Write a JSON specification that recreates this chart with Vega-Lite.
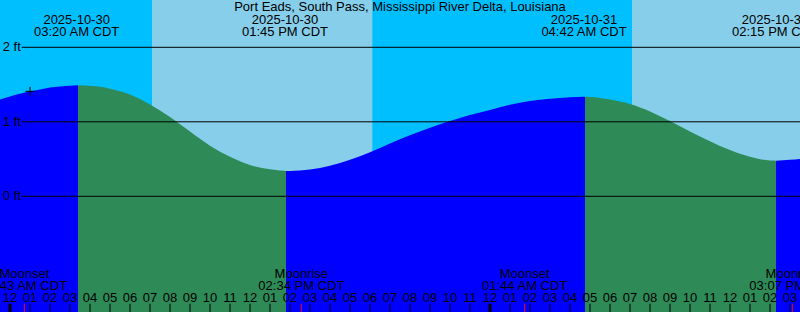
{
  "$schema": "https://vega.github.io/schema/vega-lite/v6.json",
  "width": 800,
  "height": 312,
  "autosize": "none",
  "padding": 0,
  "background": "#00BFFF",
  "config": {
    "view": {"stroke": null},
    "axis": {"disable": true},
    "text": {"font": "Liberation Sans", "fontSize": 13, "color": "#000000"}
  },
  "datasets": {
    "sky": [
      {"start": -0.5, "end": 7.1, "period": "night"},
      {"start": 7.1, "end": 18.13, "period": "day"},
      {"start": 18.13, "end": 31.1, "period": "night"},
      {"start": 31.1, "end": 39.5, "period": "day"}
    ],
    "tide": [
      {"h": -0.5, "ft": 1.30, "seg": 1, "dir": "rising"},
      {"h": 0, "ft": 1.34, "seg": 1, "dir": "rising"},
      {"h": 0.5, "ft": 1.375, "seg": 1, "dir": "rising"},
      {"h": 1, "ft": 1.41, "seg": 1, "dir": "rising"},
      {"h": 1.5, "ft": 1.435, "seg": 1, "dir": "rising"},
      {"h": 2, "ft": 1.46, "seg": 1, "dir": "rising"},
      {"h": 2.5, "ft": 1.475, "seg": 1, "dir": "rising"},
      {"h": 3, "ft": 1.485, "seg": 1, "dir": "rising"},
      {"h": 3.4, "ft": 1.49, "seg": 1, "dir": "rising"},
      {"h": 3.4, "ft": 1.49, "seg": 2, "dir": "falling"},
      {"h": 4, "ft": 1.483, "seg": 2, "dir": "falling"},
      {"h": 5, "ft": 1.445, "seg": 2, "dir": "falling"},
      {"h": 6, "ft": 1.365, "seg": 2, "dir": "falling"},
      {"h": 7, "ft": 1.232, "seg": 2, "dir": "falling"},
      {"h": 8, "ft": 1.065, "seg": 2, "dir": "falling"},
      {"h": 9, "ft": 0.87, "seg": 2, "dir": "falling"},
      {"h": 10, "ft": 0.68, "seg": 2, "dir": "falling"},
      {"h": 11, "ft": 0.53, "seg": 2, "dir": "falling"},
      {"h": 12, "ft": 0.42, "seg": 2, "dir": "falling"},
      {"h": 13, "ft": 0.362, "seg": 2, "dir": "falling"},
      {"h": 13.8, "ft": 0.34, "seg": 2, "dir": "falling"},
      {"h": 13.8, "ft": 0.34, "seg": 3, "dir": "rising"},
      {"h": 14, "ft": 0.341, "seg": 3, "dir": "rising"},
      {"h": 15, "ft": 0.36, "seg": 3, "dir": "rising"},
      {"h": 16, "ft": 0.41, "seg": 3, "dir": "rising"},
      {"h": 17, "ft": 0.49, "seg": 3, "dir": "rising"},
      {"h": 18, "ft": 0.59, "seg": 3, "dir": "rising"},
      {"h": 19, "ft": 0.71, "seg": 3, "dir": "rising"},
      {"h": 20, "ft": 0.82, "seg": 3, "dir": "rising"},
      {"h": 21, "ft": 0.92, "seg": 3, "dir": "rising"},
      {"h": 22, "ft": 1.01, "seg": 3, "dir": "rising"},
      {"h": 23, "ft": 1.09, "seg": 3, "dir": "rising"},
      {"h": 24, "ft": 1.16, "seg": 3, "dir": "rising"},
      {"h": 25, "ft": 1.23, "seg": 3, "dir": "rising"},
      {"h": 26, "ft": 1.28, "seg": 3, "dir": "rising"},
      {"h": 27, "ft": 1.31, "seg": 3, "dir": "rising"},
      {"h": 28, "ft": 1.33, "seg": 3, "dir": "rising"},
      {"h": 28.75, "ft": 1.335, "seg": 3, "dir": "rising"},
      {"h": 28.75, "ft": 1.335, "seg": 4, "dir": "falling"},
      {"h": 29, "ft": 1.333, "seg": 4, "dir": "falling"},
      {"h": 30, "ft": 1.30, "seg": 4, "dir": "falling"},
      {"h": 31, "ft": 1.24, "seg": 4, "dir": "falling"},
      {"h": 32, "ft": 1.14, "seg": 4, "dir": "falling"},
      {"h": 33, "ft": 1.01, "seg": 4, "dir": "falling"},
      {"h": 34, "ft": 0.87, "seg": 4, "dir": "falling"},
      {"h": 35, "ft": 0.74, "seg": 4, "dir": "falling"},
      {"h": 36, "ft": 0.62, "seg": 4, "dir": "falling"},
      {"h": 37, "ft": 0.53, "seg": 4, "dir": "falling"},
      {"h": 38, "ft": 0.48, "seg": 4, "dir": "falling"},
      {"h": 38.3, "ft": 0.478, "seg": 4, "dir": "falling"},
      {"h": 38.3, "ft": 0.478, "seg": 5, "dir": "rising"},
      {"h": 39, "ft": 0.49, "seg": 5, "dir": "rising"},
      {"h": 39.5, "ft": 0.50, "seg": 5, "dir": "rising"}
    ],
    "levels": [
      {"ft": 0, "label": "0 ft"},
      {"ft": 1, "label": "1 ft"},
      {"ft": 2, "label": "2 ft"}
    ],
    "title": [
      {"h": 19.5, "title": "Port Eads, South Pass, Mississippi River Delta, Louisiana"}
    ],
    "tideEvents": [
      {"h": 3.333, "date": "2025-10-30", "time": "03:20 AM CDT"},
      {"h": 13.75, "date": "2025-10-30", "time": "01:45 PM CDT"},
      {"h": 28.7, "date": "2025-10-31", "time": "04:42 AM CDT"},
      {"h": 38.25, "date": "2025-10-31", "time": "02:15 PM CDT"}
    ],
    "moonEvents": [
      {"h": 0.717, "event": "Moonset", "time": "12:43 AM CDT"},
      {"h": 14.567, "event": "Moonrise", "time": "02:34 PM CDT"},
      {"h": 25.733, "event": "Moonset", "time": "01:44 AM CDT"},
      {"h": 39.117, "event": "Moonrise", "time": "03:07 PM CDT"}
    ],
    "hours": [
      {"h": 0, "label": "12"}, {"h": 1, "label": "01"}, {"h": 2, "label": "02"}, {"h": 3, "label": "03"},
      {"h": 4, "label": "04"}, {"h": 5, "label": "05"}, {"h": 6, "label": "06"}, {"h": 7, "label": "07"},
      {"h": 8, "label": "08"}, {"h": 9, "label": "09"}, {"h": 10, "label": "10"}, {"h": 11, "label": "11"},
      {"h": 12, "label": "12"}, {"h": 13, "label": "01"}, {"h": 14, "label": "02"}, {"h": 15, "label": "03"},
      {"h": 16, "label": "04"}, {"h": 17, "label": "05"}, {"h": 18, "label": "06"}, {"h": 19, "label": "07"},
      {"h": 20, "label": "08"}, {"h": 21, "label": "09"}, {"h": 22, "label": "10"}, {"h": 23, "label": "11"},
      {"h": 24, "label": "12"}, {"h": 25, "label": "01"}, {"h": 26, "label": "02"}, {"h": 27, "label": "03"},
      {"h": 28, "label": "04"}, {"h": 29, "label": "05"}, {"h": 30, "label": "06"}, {"h": 31, "label": "07"},
      {"h": 32, "label": "08"}, {"h": 33, "label": "09"}, {"h": 34, "label": "10"}, {"h": 35, "label": "11"},
      {"h": 36, "label": "12"}, {"h": 37, "label": "01"}, {"h": 38, "label": "02"}, {"h": 39, "label": "03"}
    ],
    "now": [
      {"h": 1.0, "ft": 1.409}
    ]
  },
  "layer": [
    {
      "data": {"name": "sky"},
      "mark": {"type": "rect"},
      "encoding": {
        "x": {"field": "start", "type": "quantitative", "scale": {"domain": [-0.5, 39.5], "nice": false, "zero": false}, "axis": null},
        "x2": {"field": "end"},
        "y": {"datum": 2.635, "type": "quantitative", "scale": {"domain": [-1.553, 2.635], "nice": false, "zero": false}, "axis": null},
        "y2": {"datum": -1.553},
        "color": {"field": "period", "type": "nominal", "scale": {"domain": ["night", "day"], "range": ["#00BFFF", "#87CEEB"]}, "legend": null}
      }
    },
    {
      "data": {"name": "tide"},
      "mark": {"type": "area", "interpolate": "monotone"},
      "encoding": {
        "x": {"field": "h", "type": "quantitative", "scale": {"domain": [-0.5, 39.5], "nice": false, "zero": false}, "axis": null},
        "y": {"field": "ft", "type": "quantitative", "scale": {"domain": [-1.553, 2.635], "nice": false, "zero": false}, "axis": null},
        "y2": {"datum": -1.553},
        "fill": {"field": "dir", "type": "nominal", "scale": {"domain": ["rising", "falling"], "range": ["#0000FF", "#2E8B57"]}, "legend": null},
        "detail": {"field": "seg", "type": "nominal"}
      }
    },
    {
      "data": {"name": "levels"},
      "mark": {"type": "rule", "color": "#000000", "strokeWidth": 1},
      "encoding": {
        "x": {"datum": 0.585, "type": "quantitative", "scale": {"domain": [-0.5, 39.5], "nice": false, "zero": false}, "axis": null},
        "x2": {"datum": 39.5},
        "y": {"field": "ft", "type": "quantitative", "scale": {"domain": [-1.553, 2.635], "nice": false, "zero": false}, "axis": null}
      }
    },
    {
      "data": {"name": "levels"},
      "mark": {"type": "text", "align": "left", "baseline": "middle"},
      "encoding": {
        "x": {"datum": -0.365, "type": "quantitative", "scale": {"domain": [-0.5, 39.5], "nice": false, "zero": false}, "axis": null},
        "y": {"field": "ft", "type": "quantitative", "scale": {"domain": [-1.553, 2.635], "nice": false, "zero": false}, "axis": null},
        "text": {"field": "label"}
      }
    },
    {
      "data": {"name": "title"},
      "mark": {"type": "text", "align": "center", "baseline": "alphabetic"},
      "encoding": {
        "x": {"field": "h", "type": "quantitative", "scale": {"domain": [-0.5, 39.5], "nice": false, "zero": false}, "axis": null},
        "y": {"datum": 2.487, "type": "quantitative", "scale": {"domain": [-1.553, 2.635], "nice": false, "zero": false}, "axis": null},
        "text": {"field": "title"}
      }
    },
    {
      "data": {"name": "tideEvents"},
      "mark": {"type": "text", "align": "center", "baseline": "alphabetic"},
      "encoding": {
        "x": {"field": "h", "type": "quantitative", "scale": {"domain": [-0.5, 39.5], "nice": false, "zero": false}, "axis": null},
        "y": {"datum": 2.309, "type": "quantitative", "scale": {"domain": [-1.553, 2.635], "nice": false, "zero": false}, "axis": null},
        "text": {"field": "date"}
      }
    },
    {
      "data": {"name": "tideEvents"},
      "mark": {"type": "text", "align": "center", "baseline": "alphabetic"},
      "encoding": {
        "x": {"field": "h", "type": "quantitative", "scale": {"domain": [-0.5, 39.5], "nice": false, "zero": false}, "axis": null},
        "y": {"datum": 2.152, "type": "quantitative", "scale": {"domain": [-1.553, 2.635], "nice": false, "zero": false}, "axis": null},
        "text": {"field": "time"}
      }
    },
    {
      "data": {"name": "moonEvents"},
      "mark": {"type": "text", "align": "center", "baseline": "alphabetic"},
      "encoding": {
        "x": {"field": "h", "type": "quantitative", "scale": {"domain": [-0.5, 39.5], "nice": false, "zero": false}, "axis": null},
        "y": {"datum": -1.101, "type": "quantitative", "scale": {"domain": [-1.553, 2.635], "nice": false, "zero": false}, "axis": null},
        "text": {"field": "event"}
      }
    },
    {
      "data": {"name": "moonEvents"},
      "mark": {"type": "text", "align": "center", "baseline": "alphabetic"},
      "encoding": {
        "x": {"field": "h", "type": "quantitative", "scale": {"domain": [-0.5, 39.5], "nice": false, "zero": false}, "axis": null},
        "y": {"datum": -1.258, "type": "quantitative", "scale": {"domain": [-1.553, 2.635], "nice": false, "zero": false}, "axis": null},
        "text": {"field": "time"}
      }
    },
    {
      "data": {"name": "hours"},
      "mark": {"type": "text", "align": "center", "baseline": "alphabetic"},
      "encoding": {
        "x": {"field": "h", "type": "quantitative", "scale": {"domain": [-0.5, 39.5], "nice": false, "zero": false}, "axis": null},
        "y": {"datum": -1.415, "type": "quantitative", "scale": {"domain": [-1.553, 2.635], "nice": false, "zero": false}, "axis": null},
        "text": {"field": "label"}
      }
    },
    {
      "data": {"name": "hours"},
      "mark": {"type": "rule", "color": "#000000"},
      "encoding": {
        "x": {"field": "h", "type": "quantitative", "scale": {"domain": [-0.5, 39.5], "nice": false, "zero": false}, "axis": null},
        "y": {"datum": -1.442, "type": "quantitative", "scale": {"domain": [-1.553, 2.635], "nice": false, "zero": false}, "axis": null},
        "y2": {"datum": -1.553},
        "strokeWidth": {"condition": {"test": "datum.h % 24 === 0", "value": 3}, "value": 1}
      }
    },
    {
      "data": {"name": "moonEvents"},
      "mark": {"type": "rule", "color": "#FF0000", "strokeWidth": 1},
      "encoding": {
        "x": {"field": "h", "type": "quantitative", "scale": {"domain": [-0.5, 39.5], "nice": false, "zero": false}, "axis": null},
        "y": {"datum": -1.442, "type": "quantitative", "scale": {"domain": [-1.553, 2.635], "nice": false, "zero": false}, "axis": null},
        "y2": {"datum": -1.553}
      }
    },
    {
      "data": {"name": "now"},
      "mark": {"type": "point", "shape": "M-1,0H1M0,-1V1", "filled": false, "stroke": "#000000", "strokeWidth": 1, "size": 81, "opacity": 1},
      "encoding": {
        "x": {"field": "h", "type": "quantitative", "scale": {"domain": [-0.5, 39.5], "nice": false, "zero": false}, "axis": null},
        "y": {"field": "ft", "type": "quantitative", "scale": {"domain": [-1.553, 2.635], "nice": false, "zero": false}, "axis": null}
      }
    }
  ]
}
